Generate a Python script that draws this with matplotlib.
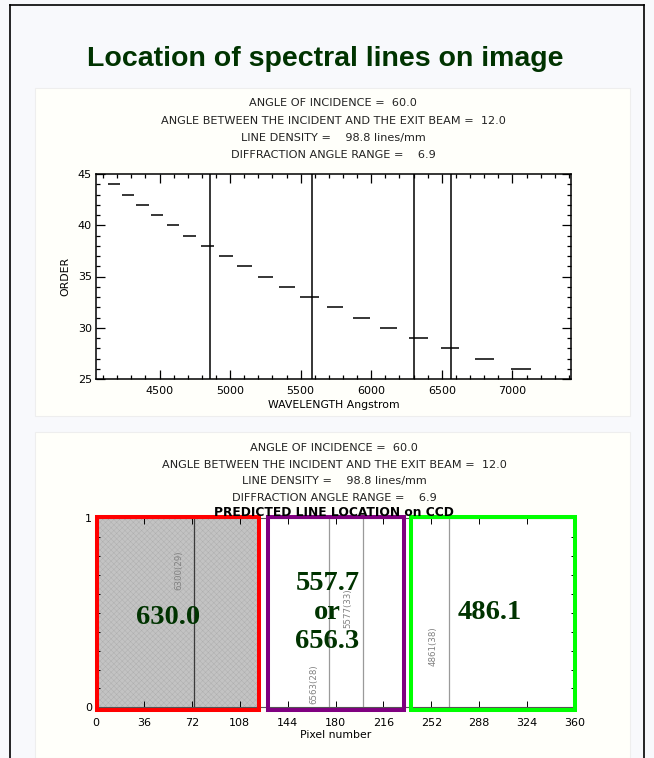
import matplotlib
matplotlib.use('Agg')
import matplotlib.pyplot as plt
from matplotlib.patches import Rectangle
from matplotlib.lines import Line2D
from matplotlib.ticker import MultipleLocator

# Top chart: wavelength coverage of each diffraction order
orders = [44, 43, 42, 41, 40, 39, 38, 37, 36, 35, 34, 33, 32, 31, 30, 29, 28, 27, 26]
seg_start = [4137, 4235, 4335, 4441, 4555, 4668, 4796, 4919, 5049, 5195,
             5344, 5498, 5683, 5869, 6061, 6266, 6491, 6733, 6988]
seg_end = [4221, 4321, 4427, 4526, 4640, 4760, 4888, 5021, 5158, 5304,
           5463, 5628, 5801, 5988, 6184, 6399, 6624, 6867, 7130]
spectral_lines = [4861, 5577, 6300, 6563]

# Bottom chart: predicted line location on CCD
line_pixels = [74, 175, 201, 265]
line_names = ['6300(29)', '6563(28)', '5577(33)', '4861(38)']
line_colors = ['#3a3a3a', '#9a9a9a', '#9a9a9a', '#9a9a9a']
label_y = [0.62, 0.02, 0.42, 0.22]
shaded_pixels = [0, 122]

# Overlay boxes (pixel range) and their labels
box_ranges = [(0.75, 122.8), (129.0, 231.4), (236.7, 360.1)]
box_colors = ['#ff0000', '#800080', '#00ff00']
box_labels = ['630.0', '557.7\nor\n656.3', '486.1']
box_label_x = [54, 174, 296]
box_label_y = [0.475, 0.50, 0.50]

header = ['ANGLE OF INCIDENCE =  60.0',
          'ANGLE BETWEEN THE INCIDENT AND THE EXIT BEAM =  12.0',
          'LINE DENSITY =    98.8 lines/mm',
          'DIFFRACTION ANGLE RANGE =    6.9']

W, H = 654, 758
plt.rcParams['hatch.linewidth'] = 0.3
fig = plt.figure(figsize=(W / 100, H / 100), dpi=100)
fig.patch.set_facecolor('#f8f9fc')


def fx(px):
    return px / W


def fy(py):
    return 1 - py / H


# slide frame and panels (behind the axes)
for xs, ys in [([10, 10], [758, 5]), ([644, 644], [758, 5]), ([10, 644], [5, 5])]:
    fig.add_artist(Line2D([fx(v) for v in xs], [fy(v) for v in ys],
                          color='black', lw=1.2, zorder=-2))
fig.add_artist(Rectangle((fx(35), fy(416)), fx(595), (416 - 88) / H,
                         transform=fig.transFigure, facecolor='#fffffa',
                         edgecolor='#eeeeee', lw=0.8, zorder=-2))
fig.add_artist(Rectangle((fx(35), 0), fx(595), (758 - 432) / H,
                         transform=fig.transFigure, facecolor='#fffffa',
                         edgecolor='#eeeeee', lw=0.8, zorder=-2))

fig.text(fx(325), fy(66), 'Location of spectral lines on image', ha='center',
         va='baseline', fontsize=20.5, fontweight='bold', color='#003300',
         family='Liberation Sans')

for i, s in enumerate(header):
    fig.text(fx(333), fy(106.5 + 17 * i), s, ha='center', va='baseline',
             fontsize=8.1, color='#222222')
    fig.text(fx(334), fy(451.3 + 16.5 * i), s, ha='center', va='baseline',
             fontsize=8.1, color='#222222')

# ---- top plot
ax = fig.add_axes([fx(96), fy(379), fx(571 - 96), (379 - 174) / H])
ax.set_facecolor('white')
ax.hlines(orders, seg_start, seg_end, color='black', lw=1.1)
ax.vlines(spectral_lines, 25, 45, color='black', lw=1.1)
ax.set_xlim(4050, 7415)
ax.set_ylim(25, 45)
ax.xaxis.set_major_locator(MultipleLocator(500))
ax.xaxis.set_minor_locator(MultipleLocator(100))
ax.yaxis.set_major_locator(MultipleLocator(5))
ax.yaxis.set_minor_locator(MultipleLocator(1))
ax.tick_params(which='both', direction='in', top=True, right=True,
               labelsize=8, width=0.9)
ax.tick_params(which='major', length=6.5)
ax.tick_params(which='minor', length=3)
ax.tick_params(axis='x', pad=5)
ax.tick_params(axis='y', pad=3)
ax.set_xlabel('WAVELENGTH Angstrom', fontsize=7.8, labelpad=3)
ax.set_ylabel('ORDER', fontsize=7.8, labelpad=5)
for sp in ax.spines.values():
    sp.set_linewidth(1.1)

# ---- bottom plot
bx = fig.add_axes([fx(96), fy(707.3), fx(575 - 96), (707.3 - 518.3) / H])
bx.set_facecolor('white')
bx.axvspan(shaded_pixels[0], shaded_pixels[1], facecolor='#c3c3c3',
           hatch='xxxxxx', edgecolor='#adadad', linewidth=0, zorder=0)
for p, name, c, ly in zip(line_pixels, line_names, line_colors, label_y):
    bx.axvline(p, color=c, lw=0.9, zorder=1)
    bx.annotate(name, (p, ly), xytext=(-11, 0), textcoords='offset points',
                rotation=90, ha='center', va='bottom', fontsize=6.2,
                color='#808080')
bx.set_xlim(0, 360)
bx.set_ylim(0, 1)
bx.set_xticks(range(0, 361, 36))
bx.set_yticks([0, 1])
bx.yaxis.set_minor_locator(MultipleLocator(0.1))
bx.tick_params(which='both', direction='in', top=True, right=True,
               labelsize=8, width=0.7)
bx.tick_params(which='major', length=4)
bx.tick_params(which='minor', length=3)
bx.tick_params(axis='x', pad=8)
bx.tick_params(axis='y', pad=3)
bx.set_xlabel('Pixel number', fontsize=7.8, labelpad=1)
for sp in bx.spines.values():
    sp.set_linewidth(0.8)
    sp.set_color('#555555')

fig.text(fx(334), fy(516), 'PREDICTED LINE LOCATION on CCD', ha='center',
         va='baseline', fontsize=8.8, fontweight='bold', color='black')

for (x0, x1), c in zip(box_ranges, box_colors):
    bx.add_patch(Rectangle((x0, -0.014), x1 - x0, 1.021, fill=False,
                           edgecolor=c, lw=2.9, clip_on=False, zorder=5))
for s, x, y in zip(box_labels, box_label_x, box_label_y):
    bx.text(x, y, s, ha='center', va='center', fontsize=20.5, fontweight='bold',
            family='Liberation Serif', color='#003300', linespacing=1.2,
            zorder=6)

fig.savefig('out.png', dpi=100, facecolor=fig.get_facecolor())
